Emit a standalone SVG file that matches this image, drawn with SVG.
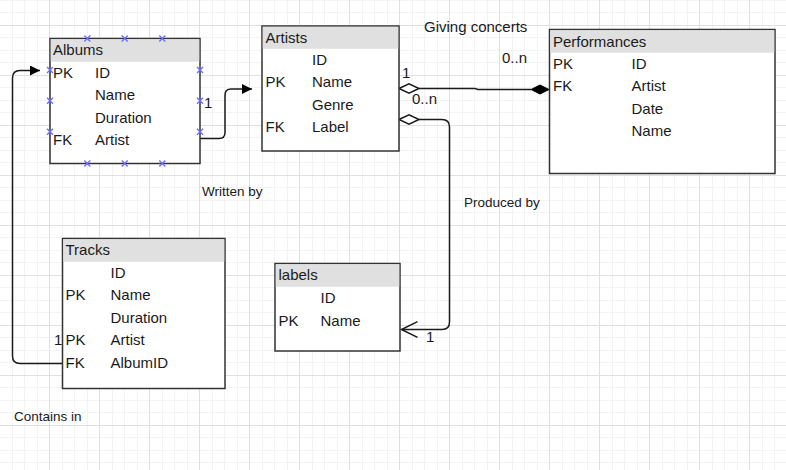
<svg xmlns="http://www.w3.org/2000/svg" width="786" height="470" viewBox="0 0 786 470">
<defs>
<pattern id="grid" patternUnits="userSpaceOnUse" x="0" y="0" width="50" height="50">
<rect x="12" y="0" width="1" height="50" fill="#f3f3f3"/>
<rect x="24" y="0" width="1" height="50" fill="#f3f3f3"/>
<rect x="37" y="0" width="1" height="50" fill="#f3f3f3"/>
<rect x="0" y="0" width="50" height="1" fill="#f3f3f3"/>
<rect x="0" y="12" width="50" height="1" fill="#f3f3f3"/>
<rect x="0" y="37" width="50" height="1" fill="#f3f3f3"/>
<rect x="49" y="0" width="1" height="50" fill="#e0e0e0"/>
<rect x="0" y="25" width="50" height="1" fill="#e0e0e0"/>
</pattern>
<marker id="arrFill" markerWidth="10" markerHeight="10" refX="10" refY="5" orient="auto" markerUnits="userSpaceOnUse">
<path d="M0,0 L10,5 L0,10 Z" fill="#000"/>
</marker>
<symbol id="xm" viewBox="-3 -3 6 6" width="6" height="6" overflow="visible">
<path d="M-3,-3 L3,3 M-3,3 L3,-3" stroke="#6f6fff" stroke-width="1.4"/>
</symbol>
</defs>
<style>
.box{fill:#fff;stroke:#333;stroke-width:1.5}
.hdr{fill:#e0e0e0}
.t{font-family:"Liberation Sans",Arial,sans-serif;font-size:15px;fill:#1a1a1a}
.a{font-family:"Liberation Sans",Arial,sans-serif;font-size:13.5px;fill:#1a1a1a}
.ln{fill:none;stroke:#1a1a1a;stroke-width:1.5}
</style>
<rect width="786" height="470" fill="#fff"/>
<rect width="786" height="470" fill="url(#grid)"/>

<g id="connectors">
<path class="ln" d="M200,138.5 H219 Q225,138.5 225,132.5 V95 Q225,89 231,89 H252" marker-end="url(#arrFill)"/>
<path class="ln" d="M62.5,363.5 H20 Q12.5,363.5 12.5,356 V78 Q12.5,70.5 20,70.5 H40" marker-end="url(#arrFill)"/>
<path class="ln" d="M419,88.5 H475 L478,89.5 H531"/>
<path d="M399,88.5 L409,83.8 L419,88.5 L409,93.2 Z" fill="#fff" stroke="#1a1a1a" stroke-width="1.5"/>
<path d="M531,89.5 L540,85 L549,89.5 L540,94 Z" fill="#000" stroke="#000" stroke-width="1"/>
<path class="ln" d="M419,119.5 H442 Q449.5,119.5 449.5,127 V322 Q449.5,329.5 442,329.5 H401.5"/>
<path d="M399,119.5 L409,114.8 L419,119.5 L409,124.2 Z" fill="#fff" stroke="#1a1a1a" stroke-width="1.5"/>
<path class="ln" d="M417.5,321.7 L401.5,329.5 L417.5,337.3"/>
<text class="t" x="402" y="78">1</text>
<text class="t" x="412" y="104">0..n</text>
<text class="t" x="502" y="63">0..n</text>
<text class="t" x="424" y="32">Giving concerts</text>
<text class="t" x="426" y="342">1</text>
<text class="t" x="204" y="108">1</text>
<text class="t" x="54" y="345">1</text>
<text class="a" x="464" y="207">Produced by</text>
<text class="a" x="202" y="196">Written by</text>
<text class="a" x="14" y="421">Contains in</text>
</g>

<g id="albums">
<rect class="box" x="50" y="38.5" width="150" height="125"/>
<rect class="hdr" x="50.75" y="39.25" width="148.5" height="22.5"/>
<text class="t" x="53" y="55">Albums</text>
<text class="t" x="53" y="77.5">PK</text><text class="t" x="95" y="77.5">ID</text>
<text class="t" x="95" y="100">Name</text>
<text class="t" x="95" y="122.5">Duration</text>
<text class="t" x="53" y="145">FK</text><text class="t" x="95" y="145">Artist</text>
<use href="#xm" x="84.3" y="35.5"/><use href="#xm" x="121.7" y="35.5"/><use href="#xm" x="159.3" y="35.5"/>
<use href="#xm" x="84.3" y="160.5"/><use href="#xm" x="121.7" y="160.5"/><use href="#xm" x="159.3" y="160.5"/>
<use href="#xm" x="47" y="67"/><use href="#xm" x="47" y="97.7"/><use href="#xm" x="47" y="128.7"/>
<use href="#xm" x="197" y="67"/><use href="#xm" x="197" y="97.7"/><use href="#xm" x="197" y="128.7"/>
</g>

<g id="artists">
<rect class="box" x="262" y="26" width="137" height="125"/>
<rect class="hdr" x="262.75" y="26.75" width="135.5" height="22"/>
<text class="t" x="265.5" y="42.5">Artists</text>
<text class="t" x="312" y="64.5">ID</text>
<text class="t" x="265.5" y="87">PK</text><text class="t" x="312" y="87">Name</text>
<text class="t" x="312" y="109.5">Genre</text>
<text class="t" x="265.5" y="132">FK</text><text class="t" x="312" y="132">Label</text>
</g>

<g id="performances">
<rect class="box" x="549.5" y="29.5" width="225.5" height="144"/>
<rect class="hdr" x="550.25" y="30.25" width="224" height="22.5"/>
<text class="t" x="553" y="47">Performances</text>
<text class="t" x="553" y="68.5">PK</text><text class="t" x="631.5" y="68.5">ID</text>
<text class="t" x="553" y="91">FK</text><text class="t" x="631.5" y="91">Artist</text>
<text class="t" x="631.5" y="113.5">Date</text>
<text class="t" x="631.5" y="136">Name</text>
</g>

<g id="tracks">
<rect class="box" x="62.5" y="238.5" width="162.5" height="150"/>
<rect class="hdr" x="63.25" y="239.25" width="161" height="22.5"/>
<text class="t" x="65.5" y="255">Tracks</text>
<text class="t" x="110.5" y="277.5">ID</text>
<text class="t" x="65.5" y="300">PK</text><text class="t" x="110.5" y="300">Name</text>
<text class="t" x="110.5" y="322.5">Duration</text>
<text class="t" x="65.5" y="345">PK</text><text class="t" x="110.5" y="345">Artist</text>
<text class="t" x="65.5" y="367.5">FK</text><text class="t" x="110.5" y="367.5">AlbumID</text>
</g>

<g id="labels">
<rect class="box" x="275" y="263.5" width="125" height="87.5"/>
<rect class="hdr" x="275.75" y="264.25" width="123.5" height="22.5"/>
<text class="t" x="278.5" y="280">labels</text>
<text class="t" x="320.5" y="303">ID</text>
<text class="t" x="278.5" y="325.5">PK</text><text class="t" x="320.5" y="325.5">Name</text>
</g>
</svg>
